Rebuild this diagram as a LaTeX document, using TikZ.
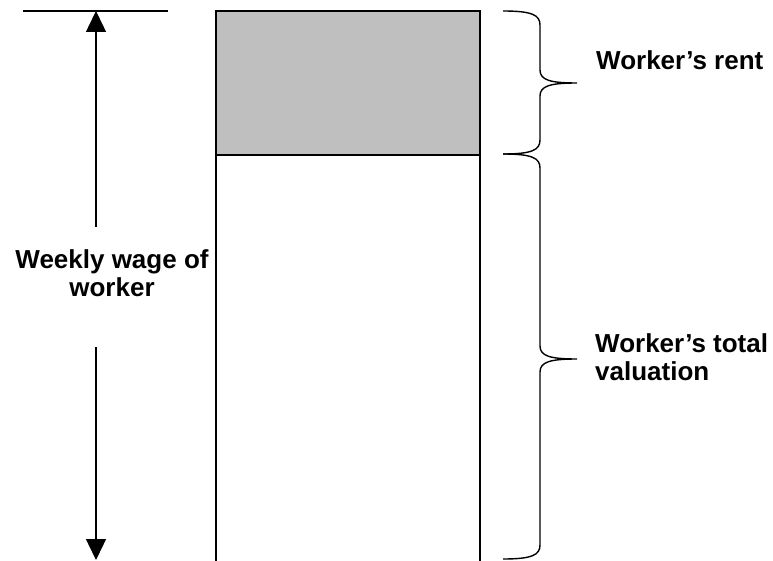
\documentclass[tikz,border=0pt]{standalone}
\usepackage{fontspec}
\setmainfont{Liberation Sans}
\usetikzlibrary{arrows.meta}
\begin{document}
\begin{tikzpicture}[x=1pt,y=1pt,
  line/.style={line width=1.4pt, black},
  arr/.style={line, -{Triangle[width=20pt,length=21pt]}},
  lbl/.style={font=\fontsize{26}{28}\selectfont\bfseries, inner sep=0pt},
  brace/.style={line width=1.4pt, black}]
\useasboundingbox (0,0) rectangle (773,560);
% column
\fill[black!25] (216,405) rectangle (480,549);
\draw[line] (216,-2) -- (216,549) -- (480,549) -- (480,-2);
\draw[line] (216,405) -- (480,405);
% top reference line
\coordinate (tl) at (23,549);
\coordinate (tr) at (168,549);
\draw[line] (tl) -- (tr);
% wage arrow
\coordinate (atop) at (96,549);
\coordinate (gtop) at (96,333);
\coordinate (gbot) at (96,213);
\coordinate (abot) at (96,0);
\draw[arr] (gtop) -- (atop);
\draw[arr] (gbot) -- (abot);
\node[lbl, align=center, anchor=base] (wage) at (112,263) {Weekly wage of\\worker};
% brace 1: rent
\draw[brace] (503,549) .. controls (532,549) and (540,545) .. (540,535)
  -- (540,490) .. controls (540,480) and (550,477) .. (577,477)
  .. controls (550,477) and (540,474) .. (540,464)
  -- (540,420) .. controls (540,410) and (532,406) .. (503,406);
\node[lbl, anchor=base west] (rent) at (596,490) {Worker’s rent};
% brace 2: total valuation
\draw[brace] (503,406) .. controls (532,406) and (540,402) .. (540,392)
  -- (540,214) .. controls (540,204) and (550,201) .. (577,201)
  .. controls (550,201) and (540,198) .. (540,188)
  -- (540,15) .. controls (540,5) and (532,1) .. (503,1);
\node[lbl, align=left, anchor=base west] (total) at (595,180) {Worker’s total\\valuation};
\end{tikzpicture}
\end{document}
